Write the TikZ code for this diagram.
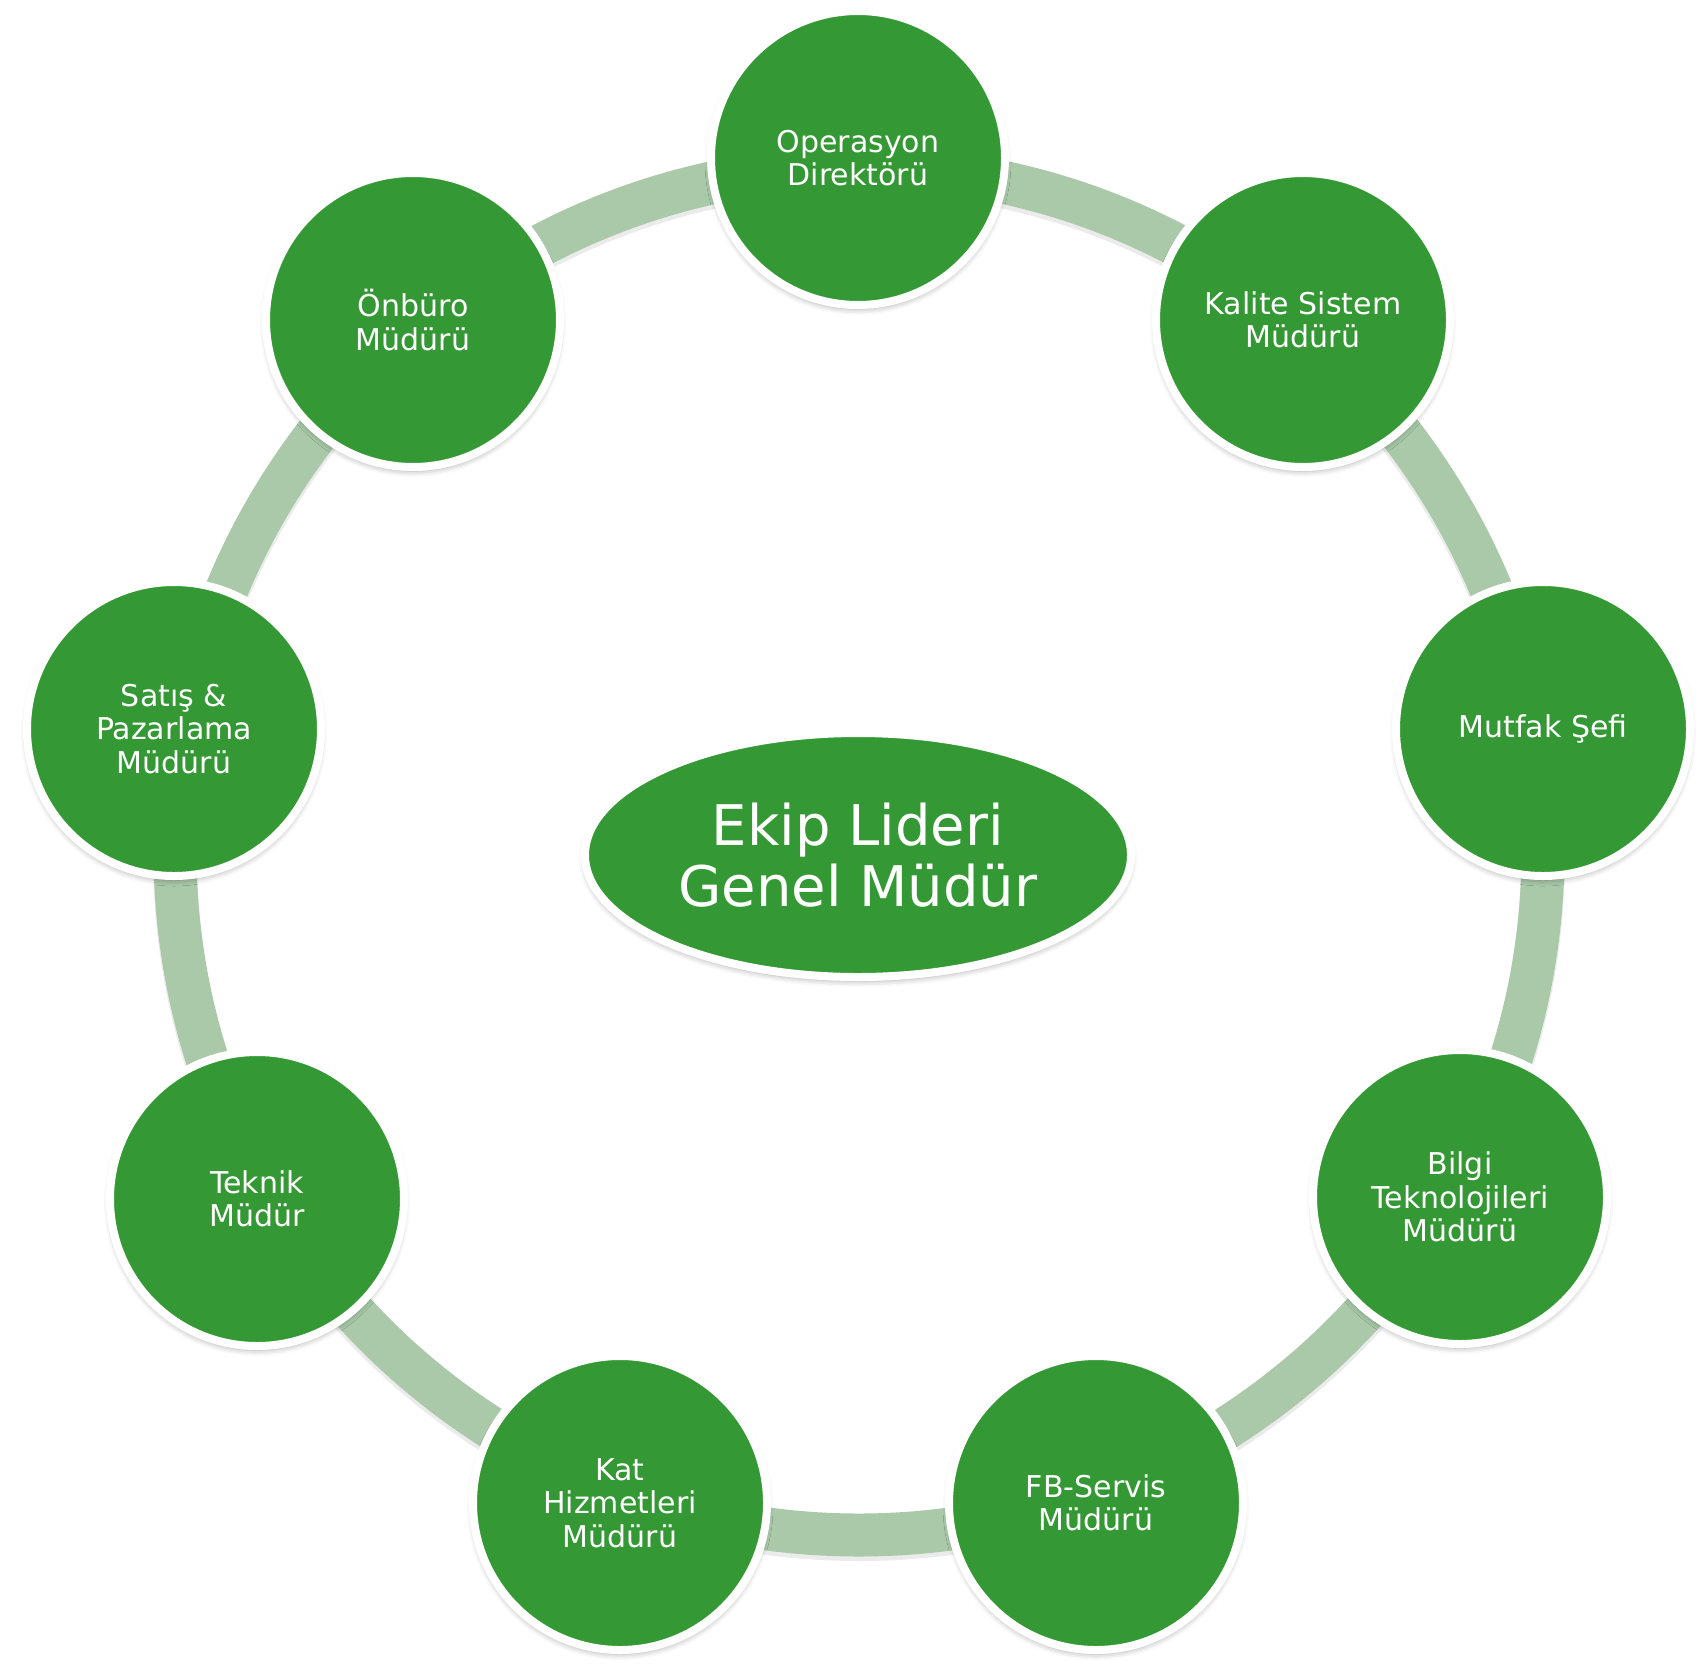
\documentclass[tikz,border=0pt]{standalone}
\usepackage{fontspec}
\setmainfont{DejaVu Sans}
\usetikzlibrary{shapes.geometric,shadows.blur}
\definecolor{nodegreen}{RGB}{52,153,52}
\definecolor{ringgreen}{RGB}{169,201,169}
\tikzset{
  member/.style={circle, fill=nodegreen, draw=white, line width=8pt,
    minimum size=294pt, inner sep=0pt, text=white, align=center,
    font=\fontsize{30}{33.5}\selectfont,
    blur shadow={shadow xshift=0pt, shadow yshift=-4pt, shadow blur radius=6pt, shadow opacity=35}},
  leader/.style={ellipse, fill=nodegreen, draw=white, line width=8pt,
    minimum width=546pt, minimum height=244pt, inner sep=0pt, text=white, align=center,
    font=\fontsize{56}{61}\selectfont,
    blur shadow={shadow xshift=0pt, shadow yshift=-4pt, shadow blur radius=6pt, shadow opacity=35}},
  ring/.style={draw=ringgreen, line width=43pt},
  ringshadow/.style={draw=black, opacity=0.08, line width=44pt}
}
\begin{document}
\begin{tikzpicture}[x=1pt,y=-1pt]
\useasboundingbox (0,0) rectangle (1699,1670);
\coordinate (ringc) at (859,851);
\draw[ringshadow] ([yshift=-4pt]ringc) circle (684pt);
\draw[ring] (ringc) circle (684pt);
\node[member] (op)  at (858,158)  {Operasyon\\Direktörü};
\node[member] (kal) at (1303,320) {Kalite Sistem\\Müdürü};
\node[member] (mut) at (1543,729) {Mutfak Şefi};
\node[member] (bil) at (1460,1197) {Bilgi\\Teknolojileri\\Müdürü};
\node[member] (fb)  at (1096,1503) {FB-Servis\\Müdürü};
\node[member] (kat) at (620,1503) {Kat\\Hizmetleri\\Müdürü};
\node[member] (tek) at (257,1199) {Teknik\\Müdür};
\node[member] (sat) at (174,729) {Satış \&\\Pazarlama\\Müdürü};
\node[member] (onb) at (413,320) {Önbüro\\Müdürü};
\node[leader] (lead) at (858,855) {Ekip Lideri\\Genel Müdür};
\end{tikzpicture}
\end{document}
